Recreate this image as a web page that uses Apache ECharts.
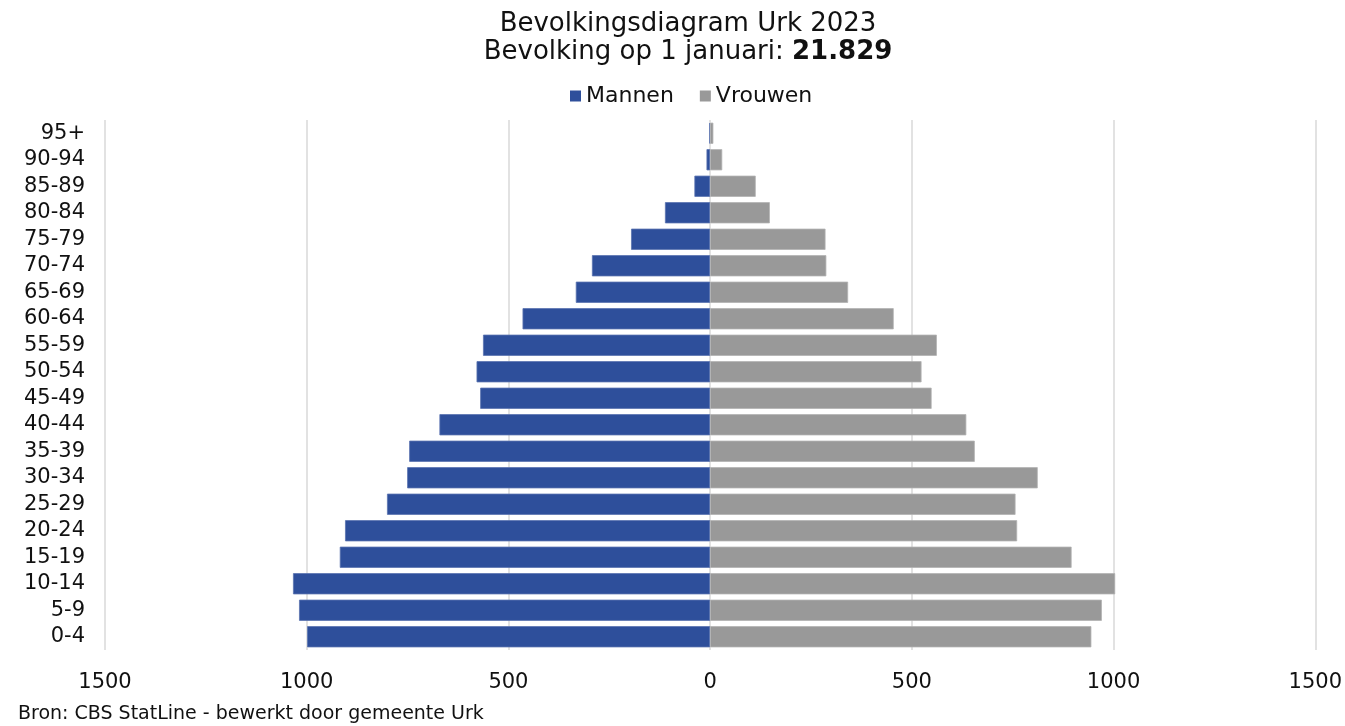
<!DOCTYPE html>
<html>
<head>
<meta charset="utf-8">
<script src="https://cdn.jsdelivr.net/npm/echarts@6/dist/echarts.min.js"></script>
<style>
html,body{margin:0;padding:0;background:#fff;}
#chart{width:1345px;height:726px;}
</style>
</head>
<body>
<div id="chart"></div>
<script>
const ageGroups = ['0-4','5-9','10-14','15-19','20-24','25-29','30-34','35-39','40-44','45-49','50-54','55-59','60-64','65-69','70-74','75-79','80-84','85-89','90-94','95+'];
const mannen = [999,1019,1034,918,905,801,751,746,671,570,579,563,465,333,293,196,112,39,9,2];
const vrouwen = [945,971,1004,896,761,757,812,656,635,549,524,562,455,342,288,286,148,113,30,8];
const xTicks = [-1500,-1000,-500,0,500,1000,1500];

const FONT = 'DejaVu Sans';
const chart = echarts.init(document.getElementById('chart'));
chart.setOption({
  backgroundColor: '#ffffff',
  textStyle: { fontFamily: FONT },
  title: {
    text: 'Bevolkingsdiagram Urk 2023\nBevolking op 1 januari: {b|21.829}',
    left: 683, top: 5, textAlign: 'center',
    textStyle: {
      fontFamily: FONT, fontSize: 26, fontWeight: 'normal', color: '#111', lineHeight: 28,
      rich: { b: { fontFamily: FONT, fontSize: 26, fontWeight: 'bold', color: '#111', lineHeight: 28 } }
    }
  },
  legend: {
    top: 80, left: 565,
    itemWidth: 11, itemHeight: 11, itemGap: 26,
    icon: 'rect',
    itemStyle: { borderWidth: 0 },
    textStyle: { fontFamily: FONT, fontSize: 22, color: '#111' },
    data: ['Mannen', 'Vrouwen']
  },
  graphic: [{
    type: 'text', left: 18, top: 705,
    style: { text: 'Bron: CBS StatLine - bewerkt door gemeente Urk', font: '19px "DejaVu Sans"', fill: '#111' }
  }],
  grid: { left: 105, right: 29, top: 120, bottom: 76, containLabel: false },
  xAxis: {
    type: 'value', min: -1500, max: 1500, interval: 500,
    axisLine: { show: false }, axisTick: { show: false },
    splitLine: { show: true, lineStyle: { color: '#d9d9d9', width: 1.5 } },
    axisLabel: { fontFamily: FONT, fontSize: 21, color: '#111', margin: 22,
      formatter: v => xTicks.includes(v) ? String(Math.abs(v)) : '' }
  },
  yAxis: {
    type: 'category', data: ageGroups,
    axisLine: { show: false }, axisTick: { show: false },
    axisLabel: { fontFamily: FONT, fontSize: 21, color: '#111', margin: 20, interval: 0 }
  },
  series: [
    { name: 'Mannen', type: 'bar', data: mannen.map(v => -v), barCategoryGap: '20%', barGap: '-100%',
      itemStyle: { color: '#2e4f9b', borderColor: '#5a74b0', borderWidth: 0.8 } },
    { name: 'Vrouwen', type: 'bar', data: vrouwen, barCategoryGap: '20%', barGap: '-100%',
      itemStyle: { color: '#999999', borderColor: '#b3b3b3', borderWidth: 0.8 } }
  ]
});
</script>
</body>
</html>
